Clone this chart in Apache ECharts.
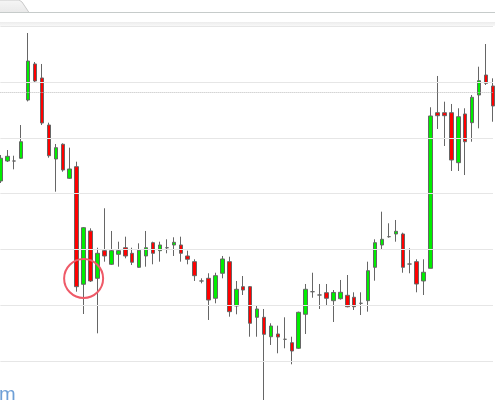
<!DOCTYPE html>
<html>
<head>
<meta charset="utf-8">
<script src="https://cdn.jsdelivr.net/npm/echarts@6/dist/echarts.min.js"></script>
<style>
html,body{margin:0;padding:0;background:#ffffff;}
#chart{width:495px;height:400px;}
</style>
</head>
<body>
<div id="chart"></div>
<script>
// Candle values (price units; grid lines every 10)
const opens = [132.26,135.84,135.84,136.33,146.77,153.23,150.72,142.29,136.20,138.84,132.74,134.82,113.75,123.30,114.82,119.77,117.33,119.12,120.30,119.30,116.79,118.82,121.20,119.77,120.30,120.79,120.79,118.82,117.80,114.34,114.82,111.24,115.72,117.80,109.86,113.32,113.32,107.83,107.83,104.35,104.84,103.89,103.28,102.28,108.37,112.42,111.83,112.24,110.81,111.16,111.77,111.42,110.34,110.81,116.79,120.79,122.28,122.76,122.76,117.38,117.80,114.34,116.61,144.50,144.50,144.50,135.54,144.27,142.71,147.67,151.25,149.28];
const closes = [136.33,136.68,135.84,139.30,153.76,150.18,142.65,136.79,138.23,134.23,134.41,113.32,123.89,114.34,119.30,118.82,119.77,119.77,118.82,117.69,119.84,120.30,119.30,120.79,120.30,121.27,119.30,118.23,115.29,114.34,110.93,115.29,118.28,108.84,112.85,112.72,106.76,109.32,104.78,106.27,104.30,103.89,101.79,108.73,112.85,112.42,111.83,111.24,112.28,112.31,109.73,109.73,110.34,116.18,121.20,121.81,122.28,123.24,116.79,117.38,113.80,115.90,143.91,143.96,143.96,136.02,143.78,139.30,147.26,150.23,149.77,145.70];
const lows = [131.90,135.66,134.35,136.20,146.52,150.00,142.29,136.43,130.34,133.92,132.62,112.42,108.42,114.16,104.96,117.80,117.20,116.90,118.40,117.20,116.67,116.90,117.33,117.80,119.30,118.82,117.80,117.33,114.34,113.92,107.35,110.34,114.82,107.94,108.37,111.83,104.35,104.35,92.00,102.87,101.38,102.28,99.41,102.16,104.84,111.34,109.32,109.86,106.99,111.00,109.62,109.14,108.24,108.84,114.39,119.89,122.10,121.38,115.82,115.72,112.31,111.83,116.61,141.58,138.53,134.05,134.05,133.33,139.30,141.70,149.46,142.88];
const highs = [136.92,137.81,136.79,142.29,158.78,153.58,153.23,142.71,138.89,139.01,138.23,135.72,124.00,123.78,120.30,127.37,123.30,121.38,122.28,120.30,121.09,123.30,121.38,121.38,121.81,122.17,122.28,119.77,118.23,114.82,115.72,115.82,118.82,118.69,114.34,115.23,113.44,109.86,109.32,106.76,106.33,107.83,104.35,108.84,113.80,115.82,113.80,113.80,112.72,114.52,115.41,112.31,112.31,117.80,121.81,126.76,124.68,125.27,123.00,120.20,118.23,118.23,145.47,151.08,146.47,146.06,145.29,145.29,147.67,152.74,156.81,150.66];
const categories = opens.map((_, i) => String(i + 1));
const gridLevels = [100, 110, 120, 130, 140, 150, 160];  // horizontal grid lines
const referenceLevel = 148.21;      // dotted horizontal line
const circledCandle = 12;           // index of the circled candle
const circledValue = 114.78;        // centre value of the red circle
const cornerText = 'm';

const candles = opens.map((o, i) => [o, closes[i], lows[i], highs[i]]);

const chart = echarts.init(document.getElementById('chart'), null, {renderer: 'canvas'});
chart.setOption({
  animation: false,
  backgroundColor: '#ffffff',
  grid: {left: 0.36, right: 2, top: 26.2, bottom: 0, containLabel: false},
  xAxis: {
    type: 'category', data: categories, boundaryGap: false, show: false
  },
  yAxis: {
    type: 'value', min: 93.01, max: 160, show: false,
    splitLine: {show: false}
  },
  series: [{
    type: 'line',
    data: [],
    z: 1,
    silent: true,
    markLine: {
      silent: true, symbol: ['none', 'none'], label: {show: false},
      lineStyle: {type: 'solid', color: '#e6e6e6', width: 1},
      data: gridLevels.map(v => ({yAxis: v}))
    }
  }, {
    type: 'candlestick',
    data: candles,
    barWidth: 4,
    z: 3,
    itemStyle: {
      color: '#00ee00', color0: '#ff0000',
      borderColor: '#666666', borderColor0: '#666666', borderColorDoji: '#666666',
      borderWidth: 1
    },
    markLine: {
      silent: true, symbol: ['none', 'none'], label: {show: false},
      lineStyle: {type: 'dotted', color: '#bdbdbd', width: 1},
      data: [{yAxis: referenceLevel}]
    },
    markPoint: {
      silent: true,
      symbol: 'circle', symbolSize: 39,
      label: {show: false},
      itemStyle: {color: 'rgba(0,0,0,0)', borderColor: '#ef5a68', borderWidth: 2},
      data: [{coord: [circledCandle, circledValue]}]
    }
  }],
  graphic: [
    {type: 'rect', shape: {x: 0, y: 0, width: 495, height: 22}, style: {fill: '#ffffff'}, silent: true, z: 10},
    {type: 'polygon', shape: {points: [[-2, 0], [19, 0], [22, 2], [29, 12.5], [-2, 12.5]]},
      style: {fill: new echarts.graphic.LinearGradient(0, 0, 0, 1, [{offset: 0, color: '#f6f6f6'}, {offset: 1, color: '#e9e9e9'}]), stroke: '#c9c9c9', lineWidth: 1}, silent: true, z: 11},
    {type: 'line', shape: {x1: 0, y1: 12.5, x2: 495, y2: 12.5}, style: {stroke: '#c6cbca', lineWidth: 1}, silent: true, z: 12},
    {type: 'rect', shape: {x: 0, y: 22, width: 495, height: 4}, style: {fill: new echarts.graphic.LinearGradient(0, 0, 0, 1, [{offset: 0, color: '#ececec'}, {offset: 1, color: '#f8f8f8'}])}, silent: true, z: 10},
    {type: 'text', x: -1, y: 405, style: {text: cornerText, fill: '#6e9fd6', font: '20px "Liberation Sans", Arial, sans-serif', verticalAlign: 'bottom', align: 'left'}, silent: true, z: 12}
  ]
});
</script>
</body>
</html>
